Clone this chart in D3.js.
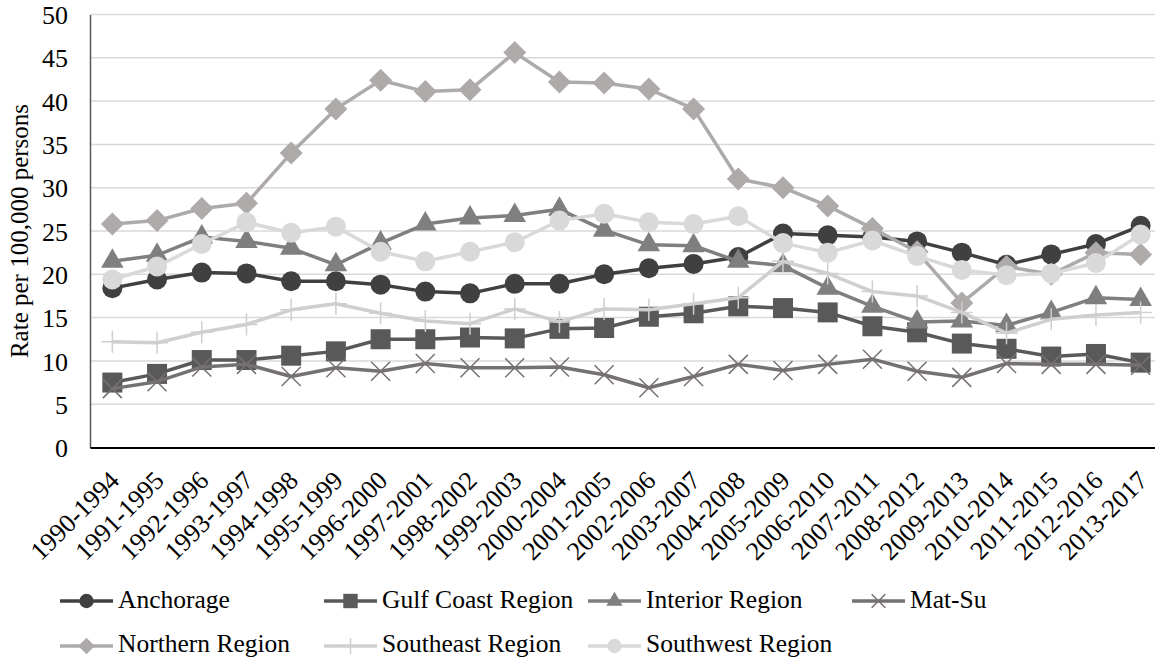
<!DOCTYPE html>
<html><head><meta charset="utf-8">
<script src="https://cdn.jsdelivr.net/npm/d3@7"></script>
<style>
html,body{margin:0;padding:0;background:#fff;overflow:hidden}
</style></head>
<body><svg id="c" width="1155" height="659"></svg>
<script>
const categories = ["1990-1994","1991-1995","1992-1996","1993-1997","1994-1998","1995-1999","1996-2000","1997-2001","1998-2002","1999-2003","2000-2004","2001-2005","2002-2006","2003-2007","2004-2008","2005-2009","2006-2010","2007-2011","2008-2012","2009-2013","2010-2014","2011-2015","2012-2016","2013-2017"];
const anchorage = [18.4,19.4,20.2,20.1,19.2,19.2,18.8,18.0,17.8,18.9,18.9,20.0,20.7,21.2,22.0,24.7,24.5,24.3,23.8,22.5,21.1,22.3,23.5,25.6];
const gulfCoast = [7.5,8.5,10.1,10.1,10.6,11.1,12.5,12.5,12.7,12.6,13.7,13.8,15.1,15.5,16.3,16.1,15.6,14.0,13.3,12.0,11.4,10.5,10.8,9.8];
const interior = [21.5,22.2,24.3,23.8,23.0,21.1,23.6,25.8,26.5,26.8,27.5,25.1,23.4,23.3,21.5,21.0,18.4,16.3,14.5,14.6,14.1,15.6,17.3,17.1];
const matSu = [6.8,7.6,9.3,9.6,8.2,9.2,8.8,9.7,9.2,9.2,9.3,8.4,6.9,8.2,9.6,8.9,9.6,10.2,8.8,8.1,9.7,9.6,9.6,9.5];
const northern = [25.8,26.2,27.6,28.2,34.0,39.1,42.4,41.1,41.3,45.6,42.2,42.1,41.4,39.1,31.0,30.0,27.9,25.3,22.6,16.7,20.9,20.0,22.5,22.3];
const southeast = [12.2,12.1,13.3,14.2,15.9,16.6,15.5,14.6,14.3,16.0,14.5,16.0,15.9,16.6,17.3,21.5,20.1,18.0,17.5,15.6,13.2,14.8,15.3,15.6];
const southwest = [19.4,20.9,23.5,26.0,24.8,25.5,22.6,21.5,22.6,23.7,26.2,27.0,26.0,25.8,26.7,23.6,22.5,23.9,22.1,20.5,19.9,20.1,21.3,24.6];
const seriesNames = ["Anchorage","Gulf Coast Region","Interior Region","Mat-Su","Northern Region","Southeast Region","Southwest Region"];
const yTicks = [0,5,10,15,20,25,30,35,40,45,50];
const yTitle = "Rate per 100,000 persons";

const seriesValues = [anchorage,gulfCoast,interior,matSu,northern,southeast,southwest];
const colors = ["#404040","#595959","#7f7f7f","#767171","#aeaaaa","#d0cece","#d9d9d9"];
const markers = ["circle","square","triangle","x","diamond","plus","circle"];
const FONT = '"Liberation Serif"';

const svg = d3.select("#c");
const pLeft = 90, pRight = 1163, pTop = 14.5, pBottom = 447.5;
const x = d3.scaleBand().domain(categories).range([pLeft,pRight]).padding(0);
const y = d3.scaleLinear().domain([0,50]).range([pBottom,pTop]);
const cx = c => x(c) + x.bandwidth()/2;

// gridlines
svg.append("g").selectAll("line").data(yTicks.filter(d=>d>0)).join("line")
  .attr("x1",pLeft).attr("x2",pRight).attr("y1",d=>y(d)).attr("y2",d=>y(d))
  .attr("stroke","#d9d9d9").attr("stroke-width",1.5);

// y axis
const ya = svg.append("g").attr("transform",`translate(${pLeft},0)`)
  .call(d3.axisLeft(y).tickValues(yTicks).tickSize(0).tickPadding(22));
ya.select(".domain").attr("stroke","#595959").attr("stroke-width",1.5);
ya.selectAll("text").style("font-family",FONT).style("font-size","26px").attr("fill","#000").attr("dy","0.35em");

// x axis
const xa = svg.append("g").attr("transform",`translate(0,${pBottom})`)
  .call(d3.axisBottom(x).tickSize(0).tickPadding(0));
xa.select(".domain").attr("stroke","#000").attr("stroke-width",2);
xa.selectAll("text").style("font-family",FONT).style("font-size","26px").attr("fill","#000")
  .attr("text-anchor","end").attr("dy","0.35em")
  .attr("transform","translate(2,28) rotate(-45)").attr("y",0).attr("x",0);

// y title
svg.append("text").attr("transform",`translate(28,${(pTop+pBottom)/2}) rotate(-90)`)
  .attr("text-anchor","middle").style("font-family",FONT).style("font-size","25px").attr("fill","#000").text(yTitle);

function drawMarker(g, type, color, s) {
  s = s || 1;
  if (type==="circle") g.append("circle").attr("r",10*s).attr("fill",color);
  else if (type==="square") g.append("rect").attr("x",-10*s).attr("y",-10*s).attr("width",20*s).attr("height",20*s).attr("fill",color);
  else if (type==="triangle") g.append("path").attr("d",d3.symbol(d3.symbolTriangle, 220*s*s)()).attr("fill",color);
  else if (type==="diamond") g.append("path").attr("d",`M0,${-11.5*s}L${11.5*s},0L0,${11.5*s}L${-11.5*s},0Z`).attr("fill",color);
  else if (type==="x") g.append("path").attr("d",`M${-9.5*s},${-9.5*s}L${9.5*s},${9.5*s}M${9.5*s},${-9.5*s}L${-9.5*s},${9.5*s}`).attr("stroke",color).attr("stroke-width",1.5);
  else if (type==="plus") g.append("path").attr("d",`M0,${-11*s}L0,${11*s}M${-11*s},0L${11*s},0`).attr("stroke",color).attr("stroke-width",1.5);
}

const line = d3.line().x((d,i)=>cx(categories[i])).y(d=>y(d));
seriesValues.forEach((vals,k)=>{
  const g = svg.append("g");
  g.append("path").attr("d",line(vals)).attr("fill","none").attr("stroke",colors[k]).attr("stroke-width",3.5).attr("stroke-linejoin","round");
  vals.forEach((v,i)=>{
    const m = g.append("g").attr("transform",`translate(${cx(categories[i])},${y(v)})`);
    drawMarker(m, markers[k], colors[k]);
  });
});

// legend
const legX = [60,324,588,852], legY = [601,646], legBase = [608,652];
seriesNames.forEach((n,k)=>{
  const r = Math.floor(k/4);
  const lx = legX[k%4], ly = legY[r];
  const g = svg.append("g").attr("transform",`translate(${lx},${ly})`);
  g.append("line").attr("x1",0).attr("x2",53).attr("y1",0).attr("y2",0).attr("stroke",colors[k]).attr("stroke-width",3.5);
  const m = g.append("g").attr("transform","translate(26.5,0)");
  drawMarker(m, markers[k], colors[k], 0.72);
  g.append("text").attr("x",58).attr("y",legBase[r]-ly).style("font-family",FONT).style("font-size","25.5px").attr("fill","#000").text(n);
});
</script></body></html>
